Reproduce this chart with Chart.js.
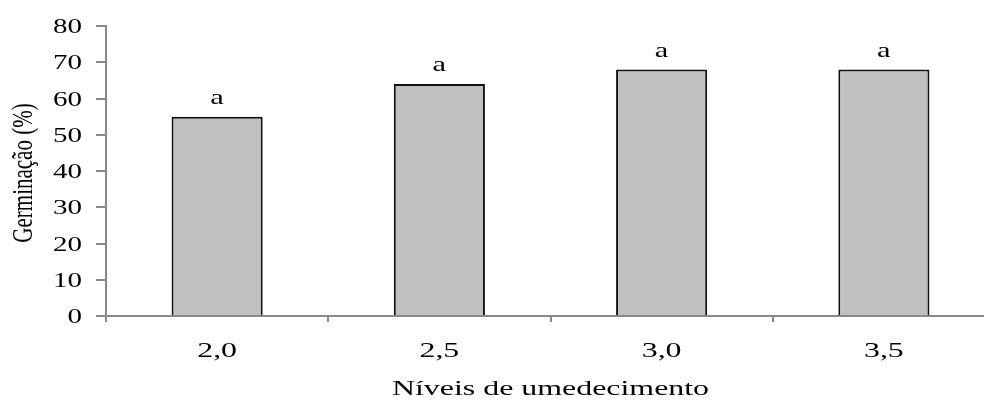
<!DOCTYPE html>
<html>
<head>
    <title>Germinação</title>
    <script src="https://cdn.jsdelivr.net/npm/chart.js"></script>
    <style>
        html, body {
            margin: 0;
            padding: 0;
            background: #fff;
            overflow: hidden;
        }
        canvas {
            display: block;
        }
    </style>
</head>
<body>
    <canvas id="germChart" width="1000" height="401"></canvas>

    <script>
        // data
        const niveis = ['2,0', '2,5', '3,0', '3,5'];
        const germinacao = [55, 64, 68, 68];
        const letras = ['a', 'a', 'a', 'a'];
        const yTicks = [0, 10, 20, 30, 40, 50, 60, 70, 80];

        const axisGray = '#898989';
        const serif = '"Liberation Serif", "Times New Roman", serif';
        const stretch = 1.45; // text in the original looks wide

        function wideText(ctx, text, x, y, align, size) {
            ctx.save();
            ctx.font = size + 'px ' + serif;
            ctx.fillStyle = '#000';
            ctx.textAlign = align;
            ctx.textBaseline = 'alphabetic';
            ctx.translate(x, y);
            ctx.scale(stretch, 1);
            ctx.fillText(text, 0, 0);
            ctx.restore();
        }

        // tick labels, titles and the letters over the bars
        const textPlugin = {
            id: 'textPlugin',
            afterDraw(chart) {
                const ctx = chart.ctx;
                const xScale = chart.scales.x;
                const yScale = chart.scales.y;

                yScale.ticks.forEach(t => {
                    const y = yScale.getPixelForValue(t.value);
                    wideText(ctx, String(t.value), 82, y + 7, 'right', 20);
                });

                niveis.forEach((lab, i) => {
                    wideText(ctx, lab, xScale.getPixelForValue(i), 357, 'center', 22);
                });

                const meta = chart.getDatasetMeta(0);
                meta.data.forEach((bar, i) => {
                    wideText(ctx, letras[i], bar.x, bar.y - 13, 'center', 21);
                });

                const area = chart.chartArea;
                wideText(ctx, 'Níveis de umedecimento', (area.left + area.right) / 2, 395, 'center', 22);

                ctx.save();
                ctx.font = '21px ' + serif;
                ctx.fillStyle = '#000';
                ctx.textAlign = 'center';
                ctx.textBaseline = 'alphabetic';
                ctx.translate(32, (area.top + area.bottom) / 2 + 2);
                ctx.scale(stretch, 1);
                ctx.rotate(-Math.PI / 2);
                ctx.fillText('Germinação (%)', 0, 0);
                ctx.restore();
            }
        };

        const ctx = document.getElementById('germChart').getContext('2d');
        const germChart = new Chart(ctx, {
            type: 'bar',
            data: {
                labels: niveis,
                datasets: [{
                    label: 'Germinação (%)',
                    data: germinacao,
                    backgroundColor: '#c0c0c0',
                    borderColor: '#111',
                    borderWidth: 2,
                    borderSkipped: 'bottom',
                    categoryPercentage: 1.0,
                    barPercentage: 0.41
                }]
            },
            options: {
                responsive: false,
                animation: false,
                layout: {
                    padding: { left: 0, right: 5, top: 26, bottom: 0 }
                },
                plugins: {
                    legend: { display: false },
                    tooltip: { enabled: false }
                },
                scales: {
                    x: {
                        offset: true,
                        grid: {
                            offset: true,
                            drawOnChartArea: false,
                            drawTicks: true,
                            tickLength: 6,
                            color: axisGray,
                            lineWidth: 2
                        },
                        border: { display: true, color: axisGray, width: 2 },
                        ticks: { display: false },
                        afterFit(scale) { scale.height = 85; }
                    },
                    y: {
                        min: 0,
                        max: 80,
                        afterBuildTicks(scale) {
                            scale.ticks = yTicks.map(v => ({ value: v }));
                        },
                        grid: {
                            drawOnChartArea: false,
                            drawTicks: true,
                            tickLength: 10,
                            color: axisGray,
                            lineWidth: 2
                        },
                        border: { display: true, color: axisGray, width: 2 },
                        ticks: { display: false },
                        afterFit(scale) { scale.width = 106; }
                    }
                }
            },
            plugins: [textPlugin]
        });
    </script>
</body>
</html>
